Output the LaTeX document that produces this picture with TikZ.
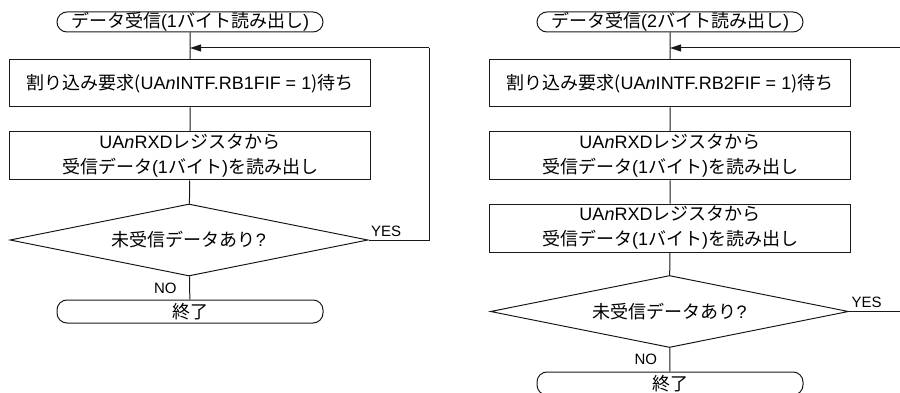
\documentclass[tikz,border=0pt]{standalone}
\usepackage{fontspec}
\setmainfont{Noto Sans CJK JP}
\newfontfamily\lsf{Liberation Sans}
\usetikzlibrary{arrows.meta,calc,positioning,shapes.geometric}
\newcommand{\uan}{{\lsf UA\textit{n}}}

\tikzset{
  every node/.style={font=\fontsize{18}{25}\selectfont},
  term/.style={draw,rounded corners=10pt,minimum width=266pt,inner sep=0pt},
  proc/.style={draw,minimum width=361pt,minimum height=47pt,inner sep=0pt,align=center},
  decide/.style={draw,diamond,aspect=4.97,minimum width=358pt,minimum height=72pt,inner sep=0pt},
  lbl/.style={font=\lsf\fontsize{15}{15}\selectfont,inner sep=0pt},
  arr/.style={-{Triangle[length=11pt,width=7pt]}},
}

\begin{document}
\begin{tikzpicture}[x=1pt,y=-1pt,line width=1pt,draw=black!90]
  \clip (0,0) rectangle (900,393);
  % left chart: one byte per interrupt
  \node[term,minimum height=20pt] (s1) at (190,22) {データ受信{\lsf (1}バイト読み出し{\lsf )}};
  \node[proc] (a1) at (190,83.5) {割り込み要求({\lsf\uan INTF.RB1FIF = 1})待ち};
  \node[proc,minimum height=48pt] (b1) at (190,156) {\uan{\lsf RXD}レジスタから\\受信データ{\lsf (1}バイト{\lsf )}を読み出し};
  \node[decide] (d1) at (189,240) {未受信データあり{\lsf ?}};
  \node[term,minimum height=23pt] (e1) at (190,311.5) {終了};
  \coordinate (m1) at (190,48);
  \coordinate (r1) at (429,48);
  \draw (s1) -- (a1) (a1) -- (b1) (b1) -- (d1) (d1) -- (e1);
  \draw (d1.east) -| (r1);
  \draw[arr] (r1) -- (m1);
  \node[lbl,anchor=south west] at ($(d1.east)+(2,-3)$) {YES};
  \node[lbl,anchor=north east] at ($(d1.south)+(-12,6)$) {NO};

  % right chart: two bytes per interrupt
  \node[term,minimum height=20pt] (s2) at (670,22) {データ受信{\lsf (2}バイト読み出し{\lsf )}};
  \node[proc] (a2) at (670,83.5) {割り込み要求({\lsf\uan INTF.RB2FIF = 1})待ち};
  \node[proc,minimum height=48pt] (b2) at (670,156) {\uan{\lsf RXD}レジスタから\\受信データ{\lsf (1}バイト{\lsf )}を読み出し};
  \node[proc,minimum height=48pt] (c2) at (670,228) {\uan{\lsf RXD}レジスタから\\受信データ{\lsf (1}バイト{\lsf )}を読み出し};
  \node[decide] (d2) at (669.5,311.5) {未受信データあり{\lsf ?}};
  \node[term,minimum height=23pt] (e2) at (670,383.5) {終了};
  \coordinate (m2) at (670,48);
  \coordinate (r2) at (910,48);
  \coordinate (y2) at (910,311.5);
  \draw (s2) -- (a2) (a2) -- (b2) (b2) -- (c2) (c2) -- (d2) (d2) -- (e2);
  \draw (d2.east) -- (y2);
  \draw[arr] (r2) -- (m2);
  \node[lbl,anchor=south west] at ($(d2.east)+(2,-3)$) {YES};
  \node[lbl,anchor=north east] at ($(d2.south)+(-12,6)$) {NO};
\end{tikzpicture}
\end{document}
